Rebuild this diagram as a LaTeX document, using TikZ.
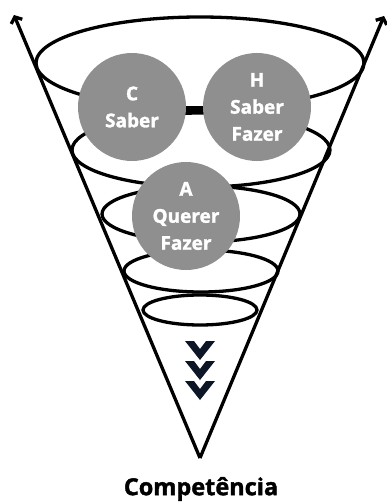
\documentclass[tikz,border=0pt]{standalone}
\usepackage{fontspec}
\setmainfont{Open Sans}[BoldFeatures={FakeBold=1.6}]
\usetikzlibrary{arrows.meta}
\definecolor{ballgray}{RGB}{143,143,143}
\definecolor{chevnavy}{RGB}{12,22,38}
\tikzset{
  side/.style={line width=3.3pt,-{Straight Barb[length=5pt,width=12pt]}},
  ring/.style={line width=3.3pt},
  ball/.style={circle,fill=ballgray,text=white,minimum size=108pt,inner sep=0pt,align=center,
    font=\bfseries\fontsize{19}{27}\selectfont},
  chev/.style={fill=chevnavy,draw=none},
  title/.style={font=\bfseries\fontsize{23.5}{28}\selectfont,text=black}
}
\begin{document}
\begin{tikzpicture}[x=1pt,y=-1pt]
\useasboundingbox (0,0) rectangle (386,503);
% cone sides
\coordinate (apex) at (200,458);
\coordinate (tl) at (14,15);
\coordinate (tr) at (384,16);
\draw[side] (apex) -- (tl);
\draw[side] (apex) -- (tr);
% rings
\draw[ring] (200,63) ellipse [x radius=164,y radius=46];
\draw[ring] (201,150) ellipse [x radius=129,y radius=37];
\draw[ring] (201,214) ellipse [x radius=99,y radius=28];
\draw[ring] (201,271) ellipse [x radius=77,y radius=21];
\draw[ring] (200,310) ellipse [x radius=57,y radius=15];
% balls
\node[ball] (c) at (132,107) {C\\Saber};
\node[ball] (h) at (257,107) {H\\Saber\\Fazer};
\node[ball] (a) at (186,216) {A\\Querer\\Fazer};
\draw[line width=8pt] ([yshift=-3pt]c.east) -- ([yshift=-3pt]h.west);
% chevrons
\foreach \t in {341,361,381}{
  \fill[chev] (185,\t) -- (194,\t) -- (200,\t+8) -- (206,\t) -- (215,\t) -- (200,\t+19) -- cycle;
}
\node[title] (comp) at (201,489) {Competência};
\end{tikzpicture}
\end{document}
